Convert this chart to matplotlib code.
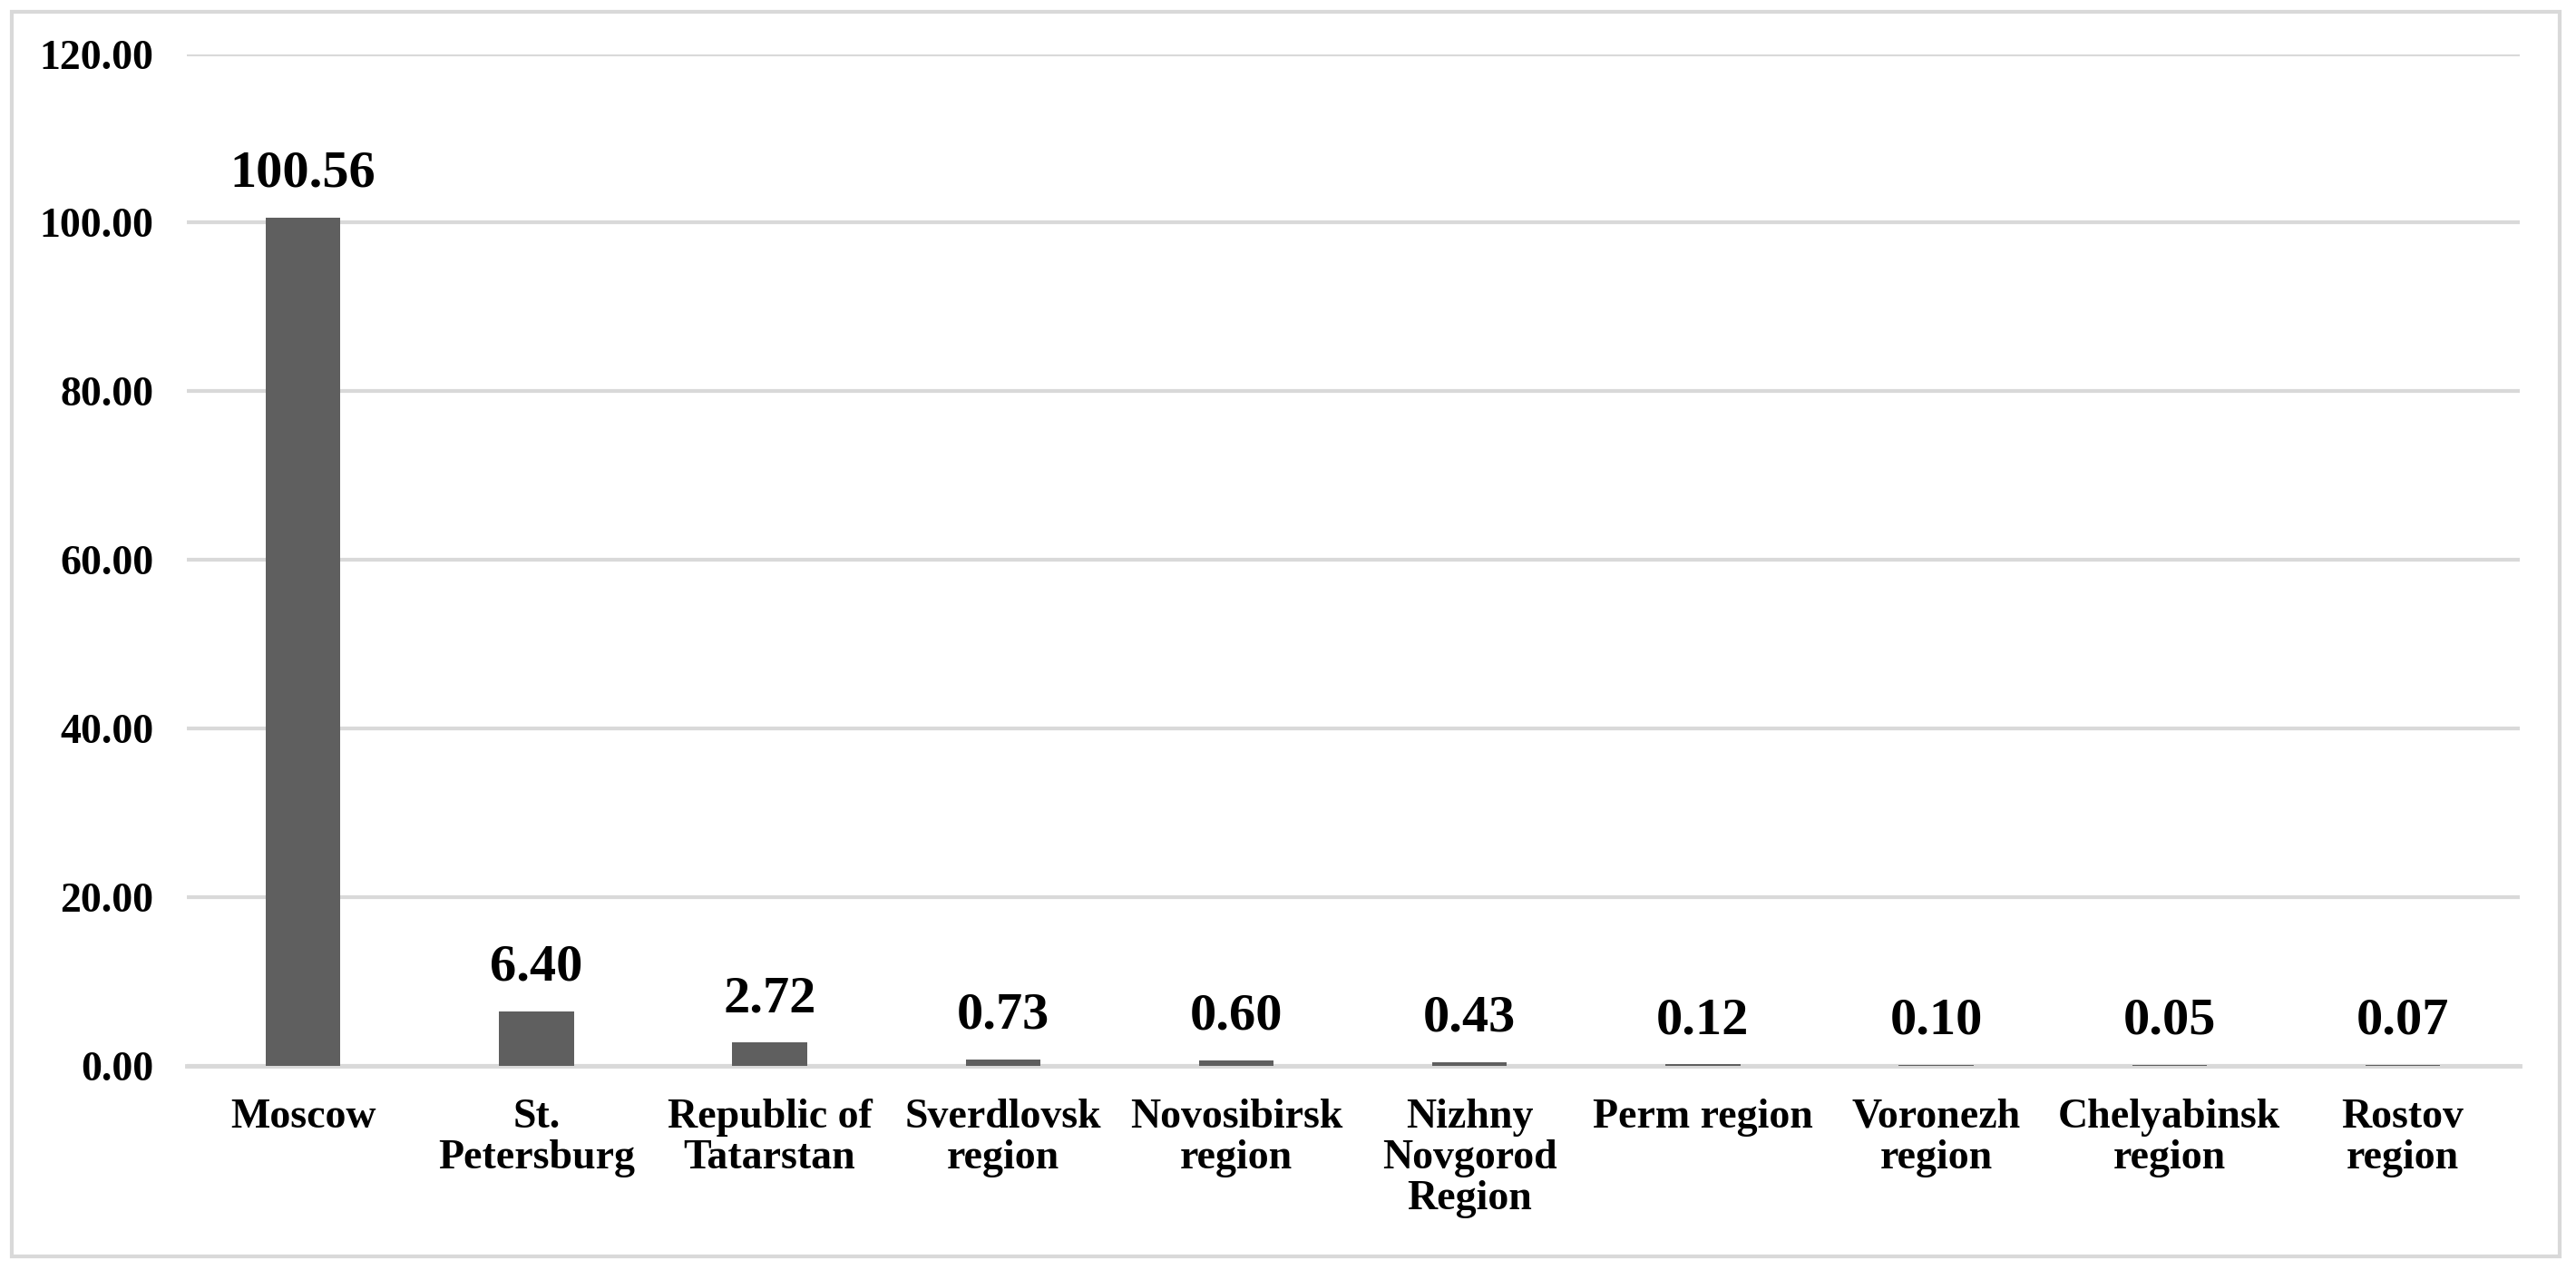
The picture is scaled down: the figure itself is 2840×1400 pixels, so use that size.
import numpy as np
import matplotlib.pyplot as plt
from matplotlib.patches import Rectangle

# data
regions = ['Moscow', 'St.\nPetersburg', 'Republic of\nTatarstan', 'Sverdlovsk\nregion',
           'Novosibirsk\nregion', 'Nizhny\nNovgorod\nRegion', 'Perm region',
           'Voronezh\nregion', 'Chelyabinsk\nregion', 'Rostov\nregion']
values = [100.56, 6.40, 2.72, 0.73, 0.60, 0.43, 0.12, 0.10, 0.05, 0.07]
y_ticks = [0, 20, 40, 60, 80, 100, 120]

plt.rcParams['font.family'] = ['Liberation Serif', 'DejaVu Serif']
plt.rcParams['font.weight'] = 'bold'

fig = plt.figure(figsize=(28.4, 14), dpi=100)
ax = fig.add_axes([0.0724, 0.161, 0.9056, 0.7965])

x = np.arange(len(regions))
bars = ax.bar(x, values, width=0.32, color='#5f5f5f', zorder=3)

for b, v in zip(bars, values):
    ax.annotate('%.2f' % v, (b.get_x() + b.get_width() / 2, v),
                xytext=(0, 16), textcoords='offset points',
                ha='center', va='bottom', fontsize=42, fontweight='bold')

ax.set_xlim(-0.5, len(regions) - 0.5)
ax.set_ylim(0, 120)
ax.set_yticks(y_ticks)
ax.set_yticklabels(['%.2f' % t for t in y_ticks])
ax.set_xticks(x)
ax.set_xticklabels(regions, linespacing=1.1)

ax.tick_params(axis='y', length=0, pad=26, labelsize=33)
ax.tick_params(axis='x', length=0, pad=26, labelsize=33)

ax.grid(axis='y', color='#d9d9d9', linewidth=3, zorder=0)
ax.set_axisbelow(True)
for s in ax.spines.values():
    s.set_visible(False)
ax.spines['bottom'].set_visible(True)
ax.spines['bottom'].set_color('#d9d9d9')
ax.spines['bottom'].set_linewidth(3.5)

# outer chart border
fig.add_artist(Rectangle((0.0045, 0.0107), 0.989, 0.98, transform=fig.transFigure,
                         fill=False, edgecolor='#d9d9d9', linewidth=3))

fig.savefig('out.png', dpi=100, facecolor='white')
